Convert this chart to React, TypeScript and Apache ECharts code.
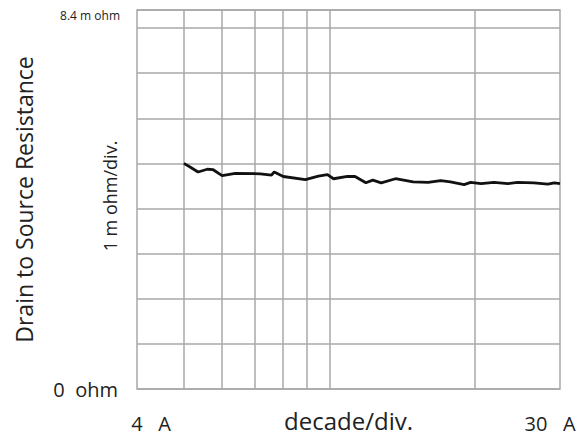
import React, { useEffect, useRef } from "react";
import * as echarts from "echarts";

const currents = [5.0, 5.15, 5.35, 5.59, 5.75, 6.0, 6.39, 7.2, 7.59, 7.69, 8.03, 8.92, 9.49, 9.91, 10.2, 10.9, 11.3, 11.9, 12.3, 12.8, 13.7, 14.9, 16.0, 17.0, 17.8, 19.0, 19.6, 20.6, 21.9, 23.4, 24.5, 26.5, 28.3, 29.2, 30];
const resistance = [5.0, 4.92, 4.81, 4.87, 4.86, 4.73, 4.78, 4.77, 4.74, 4.81, 4.71, 4.64, 4.72, 4.75, 4.66, 4.71, 4.71, 4.57, 4.63, 4.57, 4.66, 4.59, 4.58, 4.62, 4.59, 4.53, 4.58, 4.55, 4.58, 4.55, 4.58, 4.57, 4.54, 4.57, 4.55];
const xGridValues = [5, 6, 7, 8, 9, 10, 20];
const xMin = 4;
const xMax = 30;
const yMin = 0;
const yMax = 8.4;
const yInterval = 1;

const FONT = "Open Sans";

export default function App() {
  const ref = useRef<HTMLDivElement>(null);
  useEffect(() => {
    if (!ref.current) return;
    const chart = echarts.init(ref.current, null, { renderer: "svg" });
    const grey = "#a8a8a8";
    chart.setOption({
      animation: false,
      backgroundColor: "#ffffff",
      grid: {
        left: 137,
        right: 17,
        top: 10,
        bottom: 49,
        containLabel: false,
        outerBoundsMode: "none",
        show: true,
        borderColor: grey,
        borderWidth: 1.5,
      },
      xAxis: {
        type: "log",
        logBase: 10,
        min: xMin,
        max: xMax,
        axisLine: { show: false },
        axisTick: { show: false },
        splitLine: { show: false },
        axisLabel: {
          margin: 24,
          formatter: (v: number) => {
            if (Math.abs(v - xMin) < 0.01) return "{l|4   A}";
            if (Math.abs(v - xMax) < 0.01) return "{r|30   A}";
            return "";
          },
          rich: {
            l: { fontFamily: FONT, fontSize: 20, color: "#222", padding: [0, 0, 0, 28] },
            r: { fontFamily: FONT, fontSize: 20, color: "#222", padding: [0, 20, 0, 0] },
          },
        },
        name: "decade/div.",
        nameLocation: "middle",
        nameGap: 19,
        nameMoveOverlap: false,
        nameTextStyle: { fontFamily: FONT, fontSize: 24, color: "#222" },
      },
      yAxis: {
        type: "value",
        min: yMin,
        max: yMax,
        interval: yInterval,
        axisLine: { show: false },
        axisTick: { show: false },
        splitLine: { show: true, lineStyle: { color: grey, width: 1.5 } },
        axisLabel: {
          margin: 17,
          showMaxLabel: true,
          formatter: (v: number) => {
            if (Math.abs(v) < 0.01) return "{a|0  ohm}";
            if (Math.abs(v - yMax) < 0.01) return "{b|8.4 m ohm}";
            return "";
          },
          rich: {
            a: { fontFamily: FONT, fontSize: 20, color: "#222", padding: [0, 2, 0, 0] },
            b: { fontFamily: FONT, fontSize: 12, color: "#222", padding: [11, 0, 0, 0] },
          },
        },
        name: "Drain to Source Resistance",
        nameLocation: "middle",
        nameRotate: 90,
        nameGap: 102,
        nameMoveOverlap: false,
        nameTextStyle: { fontFamily: FONT, fontSize: 23, color: "#222" },
      },
      graphic: [
        {
          type: "text",
          x: 110,
          y: 196,
          rotation: Math.PI / 2,
          style: {
            text: "1 m ohm/div.",
            fontFamily: FONT,
            fontSize: 18,
            fill: "#222",
            textAlign: "center",
            textVerticalAlign: "middle",
          },
        },
      ],
      series: [
        {
          type: "line",
          data: currents.map((c, i) => [c, resistance[i]]),
          showSymbol: false,
          symbol: "none",
          lineStyle: { color: "#111", width: 2.8 },
          z: 5,
          markLine: {
            silent: true,
            symbol: "none",
            label: { show: false },
            lineStyle: { color: grey, width: 1.5, type: "solid" },
            data: xGridValues.map((v) => ({ xAxis: v })),
            z: 1,
          },
        },
      ],
    });
    return () => chart.dispose();
  }, []);
  return (
    <div
      ref={ref}
      style={{ position: "fixed", left: 0, top: 0, width: 577, height: 438 }}
    />
  );
}
